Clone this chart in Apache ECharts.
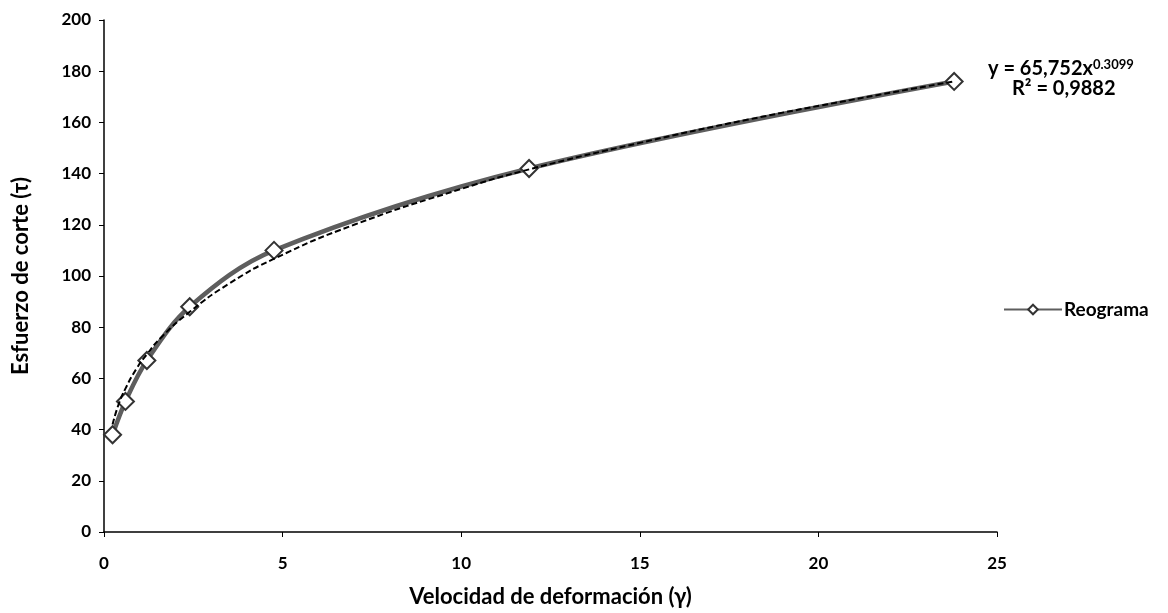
<!DOCTYPE html>
<html>
<head>
<meta charset="utf-8">
<script src="https://cdn.jsdelivr.net/npm/echarts@6/dist/echarts.min.js"></script>
<style>
html,body{margin:0;padding:0;background:#fff;}
#c{width:1168px;height:613px;}
</style>
</head>
<body>
<div id="c"></div>
<script>
// Data
const shearRate = [0.24, 0.6, 1.2, 2.4, 4.76, 11.9, 23.8];
const shearStress = [38, 51, 67, 88, 110, 142, 176];
// Power trendline as drawn
const trendX = [0.24, 0.4, 0.6, 0.9, 1.2, 1.6, 2.4, 3.5, 4.8, 7, 10, 12, 15, 18, 21, 23.8];
const trendY = [42, 49.5, 56, 63.6, 69.4, 76, 86, 97, 107, 120, 134, 142, 152, 161, 169, 176];
const xTicks = [0, 5, 10, 15, 20, 25];
const yTicks = [0, 20, 40, 60, 80, 100, 120, 140, 160, 180, 200];
const seriesName = 'Reograma';
const eqText = ['y = 65,752x', '0.3099', 'R² = 0,9882'];

const FONT = 'Lato, "Open Sans", sans-serif';
const chart = echarts.init(document.getElementById('c'), null, {renderer: 'canvas'});

chart.setOption({
  animation: false,
  backgroundColor: '#fff',
  grid: {left: 104, right: 171, top: 20, bottom: 74, containLabel: false},
  xAxis: {
    type: 'value', min: xTicks[0], max: xTicks[xTicks.length - 1], interval: 5,
    name: 'Velocidad de deformación (γ)', nameLocation: 'middle', nameGap: 54,
    nameTextStyle: {fontFamily: FONT, fontWeight: 'bold', fontSize: 22, color: '#000'},
    axisLine: {show: true, lineStyle: {color: '#000', width: 1.5}},
    axisTick: {show: true, length: 5, lineStyle: {color: '#000'}},
    axisLabel: {fontFamily: FONT, fontWeight: 'bold', fontSize: 17, color: '#000', margin: 23},
    splitLine: {show: false}
  },
  yAxis: {
    type: 'value', min: yTicks[0], max: yTicks[yTicks.length - 1], interval: 20,
    name: 'Esfuerzo de corte (τ)', nameLocation: 'middle', nameGap: 72, nameRotate: 90,
    nameTextStyle: {fontFamily: FONT, fontWeight: 'bold', fontSize: 22, color: '#000'},
    axisLine: {show: true, lineStyle: {color: '#000', width: 1.5}},
    axisTick: {show: true, length: 5, lineStyle: {color: '#000'}},
    axisLabel: {fontFamily: FONT, fontWeight: 'bold', fontSize: 17, color: '#000', margin: 13},
    splitLine: {show: false}
  },
  legend: {
    show: true, left: 998, top: 295, orient: 'vertical',
    itemWidth: 58, itemHeight: 12, itemGap: 6,
    data: [seriesName],
    textStyle: {fontFamily: FONT, fontWeight: 'bold', fontSize: 19, color: '#000', padding: [0, 0, 0, -3]}
  },
  series: [
    {
      name: seriesName, type: 'line', smooth: 0.35,
      data: shearRate.map((x, i) => [x, shearStress[i]]),
      symbol: 'diamond', symbolSize: 17,
      lineStyle: {color: '#5e5e5e', width: 4.5},
      itemStyle: {color: '#fff', borderColor: '#333', borderWidth: 2},
      z: 3
    },
    {
      name: 'trend', type: 'line', smooth: true,
      data: trendX.map((x, i) => [x, trendY[i]]),
      symbol: 'none',
      lineStyle: {color: '#000', width: 2, type: [6, 3]},
      z: 4, silent: true
    }
  ],
  graphic: [
    {
      type: 'text', left: 988, top: 58,
      style: {
        text: '{a|' + eqText[0] + '}{s|' + eqText[1] + '}',
        rich: {
          a: {fontFamily: FONT, fontWeight: 'bold', fontSize: 20, fill: '#000'},
          s: {fontFamily: FONT, fontWeight: 'bold', fontSize: 13, fill: '#000', verticalAlign: 'top', padding: [0, 0, 9, 0]}
        }
      }
    },
    {
      type: 'text', left: 1012, top: 79,
      style: {text: eqText[2], fontFamily: FONT, fontWeight: 'bold', fontSize: 20, fill: '#000'}
    }
  ]
});
</script>
</body>
</html>
